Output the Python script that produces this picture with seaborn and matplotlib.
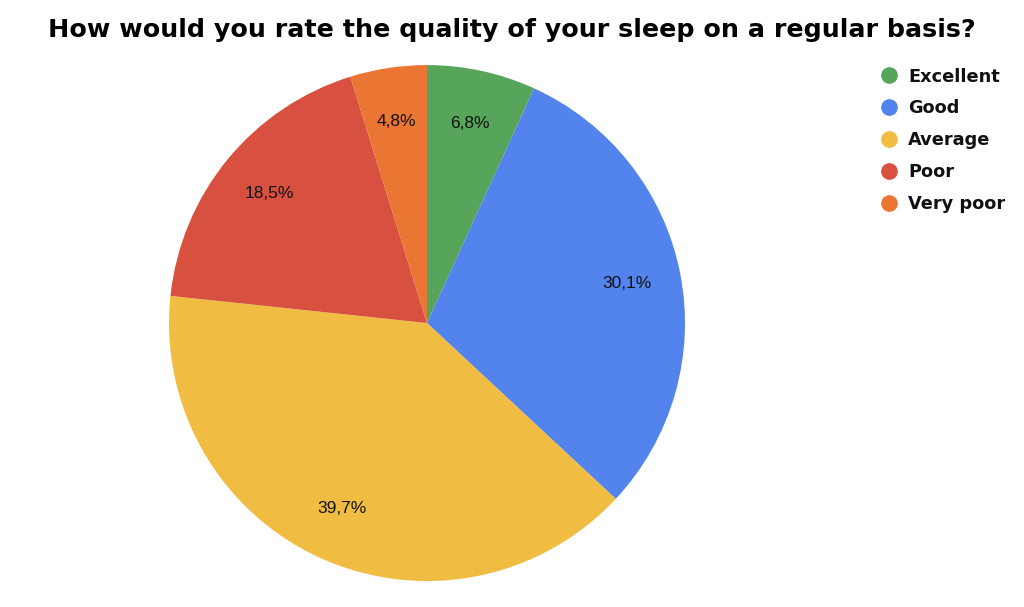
import seaborn as sns
import matplotlib.pyplot as plt
from matplotlib.lines import Line2D

# Survey answers and shares (%)
categories = ['Excellent', 'Good', 'Average', 'Poor', 'Very poor']
shares = [6.8, 30.1, 39.7, 18.5, 4.8]
colors = ['#57A55A', '#5383EC', '#F1BC42', '#D85140', '#EB7532']

sns.set_theme(style="white")
plt.rcParams['font.family'] = ['Liberation Sans', 'DejaVu Sans']

fig = plt.figure(figsize=(10.24, 6.07), dpi=100)
ax = fig.add_axes([0.165, 0.0428, 0.504, 0.850])

wedges, texts, autotexts = ax.pie(
    shares,
    colors=colors,
    startangle=90,
    counterclock=False,
    autopct=lambda p: f'{p:.1f}'.replace('.', ','),
    pctdistance=0.79,
    wedgeprops=dict(linewidth=0),
    textprops=dict(fontsize=12.5, color='#111111'),
)
for t, v in zip(autotexts, shares):
    t.set_text(f'{v:.1f}%'.replace('.', ','))
ax.set_xlim(-1, 1)
ax.set_ylim(-1, 1)
ax.set_aspect('equal')

fig.text(0.5, 0.951, 'How would you rate the quality of your sleep on a regular basis?',
         ha='center', va='center', fontsize=18.3, fontweight='heavy',
         family=['DejaVu Sans'], color='black')

handles = [Line2D([0], [0], marker='o', linestyle='', markersize=11,
                  markerfacecolor=c, markeredgecolor=c) for c in colors]
leg = fig.legend(handles, categories, loc='upper left', bbox_to_anchor=(0.835, 0.915),
                 frameon=False, handletextpad=0.1, labelspacing=0.78,
                 prop=dict(weight='bold', size=12.8, family=['DejaVu Sans']))
for t in leg.get_texts():
    t.set_color('#111111')

plt.savefig('out.png', dpi=100)
